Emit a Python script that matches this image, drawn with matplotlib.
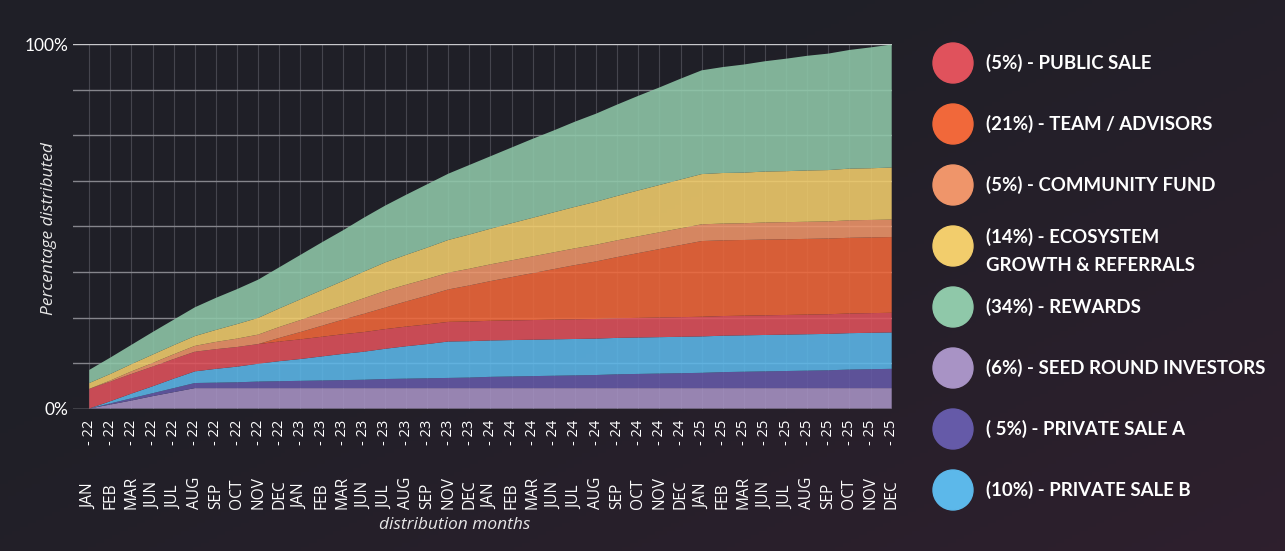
import matplotlib
matplotlib.use("Agg")
import matplotlib.pyplot as plt
import numpy as np
from matplotlib.patches import Circle
from matplotlib.transforms import blended_transform_factory

# ---------------- data ----------------
months = ["JAN", "FEB", "MAR", "JUN", "JUL", "AUG", "SEP", "OCT", "NOV", "DEC",
          "JAN", "FEB", "MAR", "JUN", "JUL", "AUG", "SEP", "NOV", "DEC",
          "JAN", "FEB", "MAR", "JUN", "JUL", "AUG", "SEP", "OCT", "NOV", "DEC",
          "JAN", "FEB", "MAR", "JUN", "JUL", "AUG", "SEP", "OCT", "NOV", "DEC"]
years = ["22", "22", "22", "22", "22", "22", "22", "22", "22", "22",
         "23", "23", "23", "23", "23", "23", "23", "23", "23",
         "24", "24", "24", "24", "24", "24", "24", "24", "24", "24",
         "25", "25", "25", "25", "25", "25", "25", "25", "25", "25"]

# percentage of total supply released (stack layers, bottom to top)
seed_round = [0.0, 1.1, 2.2, 3.4, 4.5, 5.6, 5.6, 5.6, 5.6, 5.6,
              5.6, 5.6, 5.6, 5.6, 5.6, 5.6, 5.6, 5.6, 5.6,
              5.6, 5.6, 5.6, 5.6, 5.6, 5.6, 5.6, 5.6, 5.6, 5.6,
              5.6, 5.6, 5.6, 5.6, 5.6, 5.6, 5.6, 5.6, 5.6, 5.6]
private_a = [0.0, 0.3, 0.6, 0.8, 1.1, 1.4, 1.5, 1.6, 1.8, 1.9,
             2.0, 2.1, 2.2, 2.3, 2.5, 2.6, 2.7, 2.8, 2.9,
             3.1, 3.2, 3.3, 3.4, 3.5, 3.6, 3.8, 3.9, 4.0, 4.1,
             4.2, 4.4, 4.5, 4.6, 4.7, 4.8, 4.9, 5.1, 5.2, 5.3]
private_b = [0.0, 0.6, 1.3, 1.9, 2.6, 3.2, 3.8, 4.3, 4.9, 5.5,
             6.0, 6.6, 7.2, 7.7, 8.3, 8.9, 9.4, 10.0, 10.0,
             10.0, 10.0, 10.0, 10.0, 10.0, 10.0, 10.0, 10.0, 10.0, 10.0,
             10.0, 10.0, 10.0, 10.0, 10.0, 10.0, 10.0, 10.0, 10.0, 10.0]
public_sale = [5.4, 5.4, 5.4, 5.4, 5.4, 5.4, 5.4, 5.4, 5.4, 5.4,
               5.4, 5.4, 5.4, 5.4, 5.4, 5.4, 5.4, 5.4, 5.4,
               5.4, 5.4, 5.4, 5.4, 5.4, 5.4, 5.4, 5.4, 5.4, 5.4,
               5.4, 5.4, 5.4, 5.4, 5.4, 5.4, 5.4, 5.4, 5.4, 5.4]
team = [0.0, 0.0, 0.0, 0.0, 0.0, 0.0, 0.0, 0.0, 0.0, 1.0,
        2.0, 3.0, 4.0, 5.0, 5.9, 6.9, 7.9, 8.9, 9.9,
        10.9, 11.9, 12.9, 13.9, 14.9, 15.8, 16.8, 17.8, 18.8, 19.8,
        20.8, 20.8, 20.8, 20.8, 20.8, 20.8, 20.8, 20.8, 20.8, 20.8]
community = [0.0, 0.3, 0.7, 1.0, 1.3, 1.6, 2.0, 2.3, 2.6, 3.0,
             3.3, 3.6, 3.9, 4.3, 4.6, 4.6, 4.6, 4.6, 4.6,
             4.6, 4.6, 4.6, 4.6, 4.6, 4.6, 4.6, 4.6, 4.6, 4.6,
             4.6, 4.6, 4.6, 4.7, 4.7, 4.7, 4.7, 4.8, 4.8, 4.8]
ecosystem = [1.6, 1.8, 2.0, 2.3, 2.5, 2.7, 3.3, 4.0, 4.6, 5.1,
             5.7, 6.2, 6.7, 7.3, 7.8, 8.2, 8.6, 9.0, 9.4,
             9.8, 10.2, 10.6, 11.0, 11.4, 11.8, 12.2, 12.6, 13.0, 13.4,
             13.8, 13.9, 13.9, 14.0, 14.0, 14.1, 14.1, 14.2, 14.2, 14.3]
rewards = [3.6, 4.5, 5.3, 6.2, 7.0, 7.9, 8.8, 9.6, 10.5, 11.3,
           12.2, 13.1, 13.9, 14.8, 15.6, 16.5, 17.4, 18.2, 19.1,
           19.9, 20.8, 21.7, 22.5, 23.4, 24.2, 25.1, 26.0, 26.8, 27.7,
           28.5, 29.1, 29.7, 30.3, 30.9, 31.5, 32.0, 32.6, 33.2, 33.8]

legend_labels = ["(5%) - PUBLIC SALE", "(21%) - TEAM / ADVISORS", "(5%) - COMMUNITY FUND",
                 "(14%) - ECOSYSTEM\nGROWTH & REFERRALS", "(34%) - REWARDS",
                 "(6%) - SEED ROUND INVESTORS", "( 5%) - PRIVATE SALE A", "(10%) - PRIVATE SALE B"]

# ---------------- colours ----------------
C_PUBLIC = "#E0525C"
C_TEAM = "#F1683A"
C_COMM = "#EF956A"
C_ECO = "#F2CD6C"
C_REW = "#8FC8A9"
C_SEED = "#A893C5"
C_PRIVA = "#655AA8"
C_PRIVB = "#5CB8EA"
legend_colors = [C_PUBLIC, C_TEAM, C_COMM, C_ECO, C_REW, C_SEED, C_PRIVA, C_PRIVB]

W, H = 1285, 551
fig = plt.figure(figsize=(W / 100, H / 100), dpi=100)

# background (pixel coordinate axes)
bg = fig.add_axes([0, 0, 1, 1], zorder=0)
bg.set_xlim(0, W)
bg.set_ylim(H, 0)
bg.axis("off")
gx = np.linspace(0, 1, 320)
gy = np.linspace(0, 1, 140)
GX, GY = np.meshgrid(gx, gy)
t = np.clip(0.75 * GX + 0.65 * GY - 0.45, 0, 1)
c0 = np.array([31, 31, 39]) / 255
c1 = np.array([47, 31, 46]) / 255
img = c0 + (c1 - c0) * t[..., None]
bg.imshow(img, extent=[0, W, H, 0], aspect="auto", zorder=0)

# main chart axes
x0_px, x1_px = 73.0, 891.7
y0_px, y1_px = 408.5, 44.5
ax = fig.add_axes([x0_px / W, (H - y0_px) / H, (x1_px - x0_px) / W, (y0_px - y1_px) / H], zorder=1)
ax.patch.set_alpha(0)
n = len(months)
x = np.arange(n)
ax.set_xlim(-0.77, n - 1)
ax.set_ylim(0, 100)
for s in ax.spines.values():
    s.set_visible(False)

# grid
for i in x:
    ax.plot([i, i], [0, 100], color="#45454e", lw=0.8, zorder=1)
for k in range(9):
    yv = k * 12.5
    col = "#c8c8cc" if k in (0, 8) else "#85858c"
    ax.plot([-0.77, n - 1], [yv, yv], color=col, lw=1.0, zorder=1)

ax.stackplot(x, seed_round, private_a, private_b, public_sale, team, community, ecosystem, rewards,
             colors=[C_SEED, C_PRIVA, C_PRIVB, C_PUBLIC, C_TEAM, C_COMM, C_ECO, C_REW],
             alpha=0.88, linewidth=0, edgecolor="none", zorder=2)

ax.set_xticks([])
ax.set_yticks([0, 100])
ax.set_yticklabels(["0%", "100%"], fontfamily="Lato", fontsize=12.5, color="white")
ax.tick_params(axis="y", length=0, pad=3)

# x tick labels (two parts)
tr = blended_transform_factory(ax.transData, bg.transData)
for i in x:
    ax.text(i, 509, months[i], rotation=90, ha="center", va="bottom", transform=tr,
            fontfamily="Open Sans", fontsize=11.2, color="white", clip_on=False)
    ax.text(i, 420, "- " + years[i], rotation=90, ha="center", va="top", transform=tr,
            fontfamily="Open Sans", fontsize=10.5, color="white", clip_on=False)

bg.text(455, 525, "distribution months", ha="center", va="center", fontfamily="Open Sans",
        style="italic", fontsize=12.5, color="#e6e6e6")
bg.text(49, 229, "Percentage distributed", ha="center", va="center", rotation=90,
        fontfamily="Open Sans", style="italic", fontsize=12.5, color="#e6e6e6")

# legend
lx, ly0, dy = 953, 63, 61
for k, (lab, col) in enumerate(zip(legend_labels, legend_colors)):
    cy = ly0 + k * dy
    bg.add_patch(Circle((lx, cy), 20, color=col, zorder=3))
    ty = cy + 5 if "\n" in lab else cy
    bg.text(986, ty, lab, ha="left", va="center", fontfamily="Lato", fontweight="bold",
            fontsize=13.4, color="white", linespacing=1.75, zorder=3)

fig.savefig("out.png", dpi=100)
